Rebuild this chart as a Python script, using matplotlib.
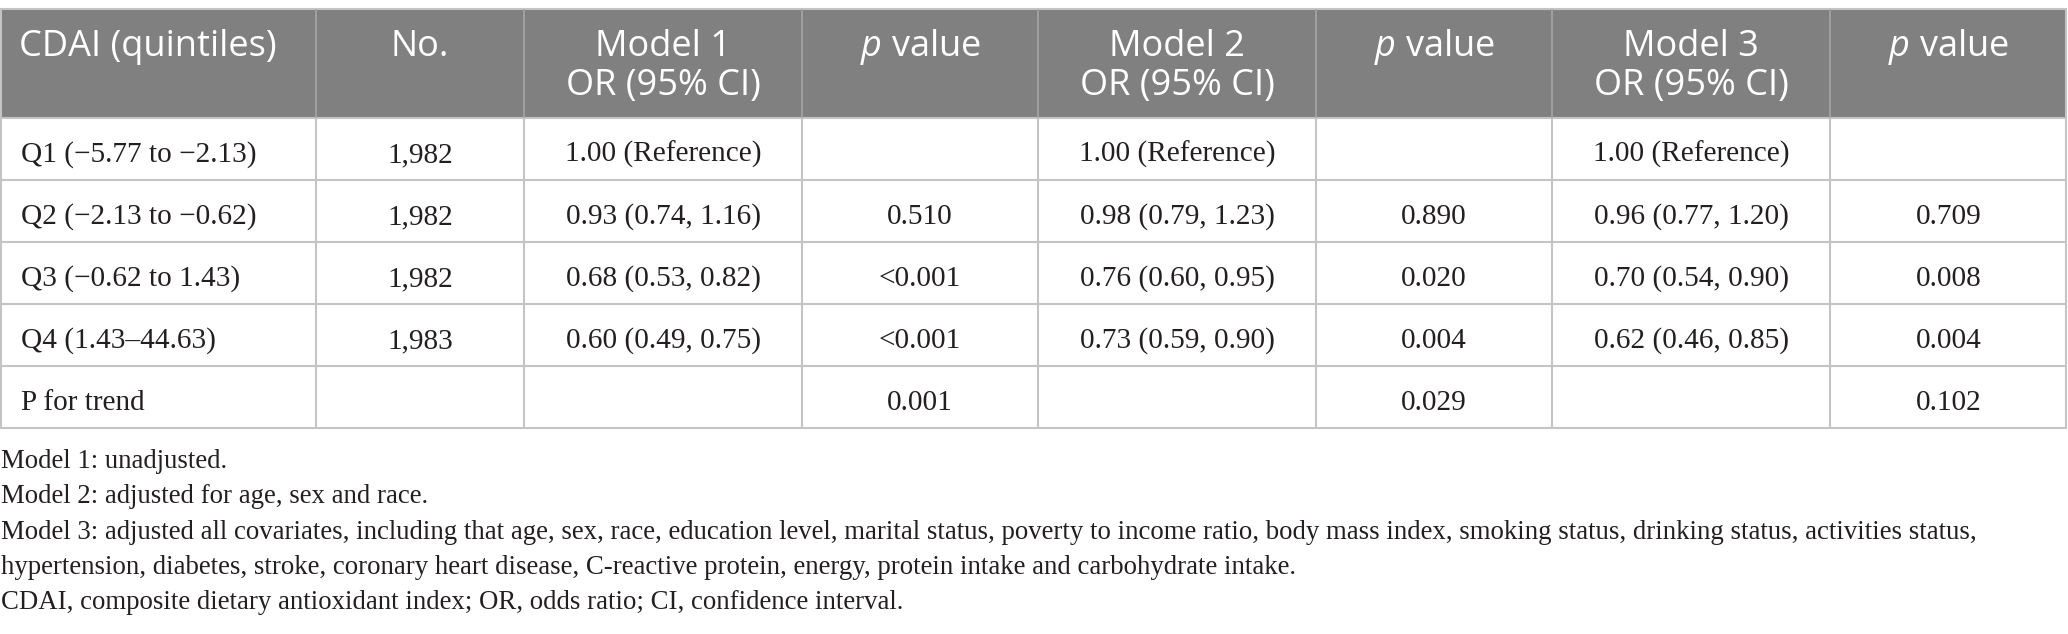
import matplotlib
matplotlib.use("Agg")
import matplotlib.pyplot as plt
from matplotlib.patches import Rectangle

# table content
header_line1 = ["CDAI (quintiles)", "No.", "Model 1", "$p$ value", "Model 2", "$p$ value", "Model 3", "$p$ value"]
header_line2 = ["", "", "OR (95% CI)", "", "OR (95% CI)", "", "OR (95% CI)", ""]

quintiles = ["Q1 (\u22125.77 to \u22122.13)", "Q2 (\u22122.13 to \u22120.62)", "Q3 (\u22120.62 to 1.43)",
             "Q4 (1.43\u201344.63)", "P for trend"]
counts = ["1,982", "1,982", "1,982", "1,983", ""]
model1_or = ["1.00 (Reference)", "0.93 (0.74, 1.16)", "0.68 (0.53, 0.82)", "0.60 (0.49, 0.75)", ""]
model1_p = ["", "0.510", "<0.001", "<0.001", "0.001"]
model2_or = ["1.00 (Reference)", "0.98 (0.79, 1.23)", "0.76 (0.60, 0.95)", "0.73 (0.59, 0.90)", ""]
model2_p = ["", "0.890", "0.020", "0.004", "0.029"]
model3_or = ["1.00 (Reference)", "0.96 (0.77, 1.20)", "0.70 (0.54, 0.90)", "0.62 (0.46, 0.85)", ""]
model3_p = ["", "0.709", "0.008", "0.004", "0.102"]

footnotes = [
    "Model 1: unadjusted.",
    "Model 2: adjusted for age, sex and race.",
    "Model 3: adjusted all covariates, including that age, sex, race, education level, marital status, "
    "poverty to income ratio, body mass index, smoking status, drinking status, activities status,",
    "hypertension, diabetes, stroke, coronary heart disease, C-reactive protein, energy, protein intake "
    "and carbohydrate intake.",
    "CDAI, composite dietary antioxidant index; OR, odds ratio; CI, confidence interval.",
]

# layout (pixels)
W, H = 2068, 634
col_widths = [316, 208, 278, 236, 278, 236, 278, 237]
table_top = 9
header_h = 109
row_h = 62
header_bg = "#808080"
grid_color = "#c4c4c4"
text_color = "#231f20"

plt.rcParams["mathtext.fontset"] = "custom"
plt.rcParams["mathtext.it"] = "Open Sans:italic"
plt.rcParams["mathtext.rm"] = "Open Sans"

header_font = dict(family=["Open Sans", "DejaVu Sans"], size=26, color="white")
body_font = dict(family=["Liberation Serif", "DejaVu Serif"], size=21.1, color=text_color)
note_font = dict(family=["Liberation Serif", "DejaVu Serif"], size=19.3, color=text_color)

fig = plt.figure(figsize=(W / 100, H / 100), dpi=100)
ax = fig.add_axes([0, 0, 1, 1])
ax.set_xlim(0, W)
ax.set_ylim(H, 0)
ax.axis("off")

col_edges = [0]
for w in col_widths:
    col_edges.append(col_edges[-1] + w)
table_right = col_edges[-1]
header_bottom = table_top + header_h
row_edges = [header_bottom + i * row_h for i in range(len(quintiles) + 1)]
table_bottom = row_edges[-1]

# header band
ax.add_patch(Rectangle((0, table_top), table_right, header_h, facecolor=header_bg, edgecolor="none", zorder=1))

# grid lines
ax.hlines([table_top], 0, table_right, color=grid_color, lw=1.5, zorder=2)
ax.hlines(row_edges, 0, table_right, color=grid_color, lw=1.5, zorder=2)
ax.vlines(col_edges[1:-1], table_top, header_bottom, color="#a6a6a6", lw=1.2, zorder=2)
ax.vlines(col_edges[1:-1], header_bottom, table_bottom, color=grid_color, lw=1.5, zorder=2)
ax.vlines([0.75, table_right - 0.75], table_top, table_bottom, color=grid_color, lw=1.5, zorder=2)

# header text
for i, (l1, l2) in enumerate(zip(header_line1, header_line2)):
    if i == 0:
        x, ha = col_edges[0] + 19, "left"
    else:
        x, ha = (col_edges[i] + col_edges[i + 1]) / 2, "center"
    ax.text(x, table_top + 47, l1, ha=ha, va="baseline", zorder=3, **header_font)
    if l2:
        ax.text(x, table_top + 86, l2, ha=ha, va="baseline", zorder=3, **header_font)

# body text
columns = [quintiles, counts, model1_or, model1_p, model2_or, model2_p, model3_or, model3_p]
for c, values in enumerate(columns):
    for r, val in enumerate(values):
        if not val:
            continue
        y = row_edges[r] + 44
        if c == 0:
            ax.text(col_edges[0] + 21, y, val, ha="left", va="baseline", zorder=3, **body_font)
        else:
            x = (col_edges[c] + col_edges[c + 1]) / 2
            ax.text(x, y, val, ha="center", va="baseline", zorder=3, **body_font)

# footnotes
for k, line in enumerate(footnotes):
    ax.text(1, 468 + k * 35.3, line, ha="left", va="baseline", **note_font)

fig.savefig("out.png", dpi=100)
